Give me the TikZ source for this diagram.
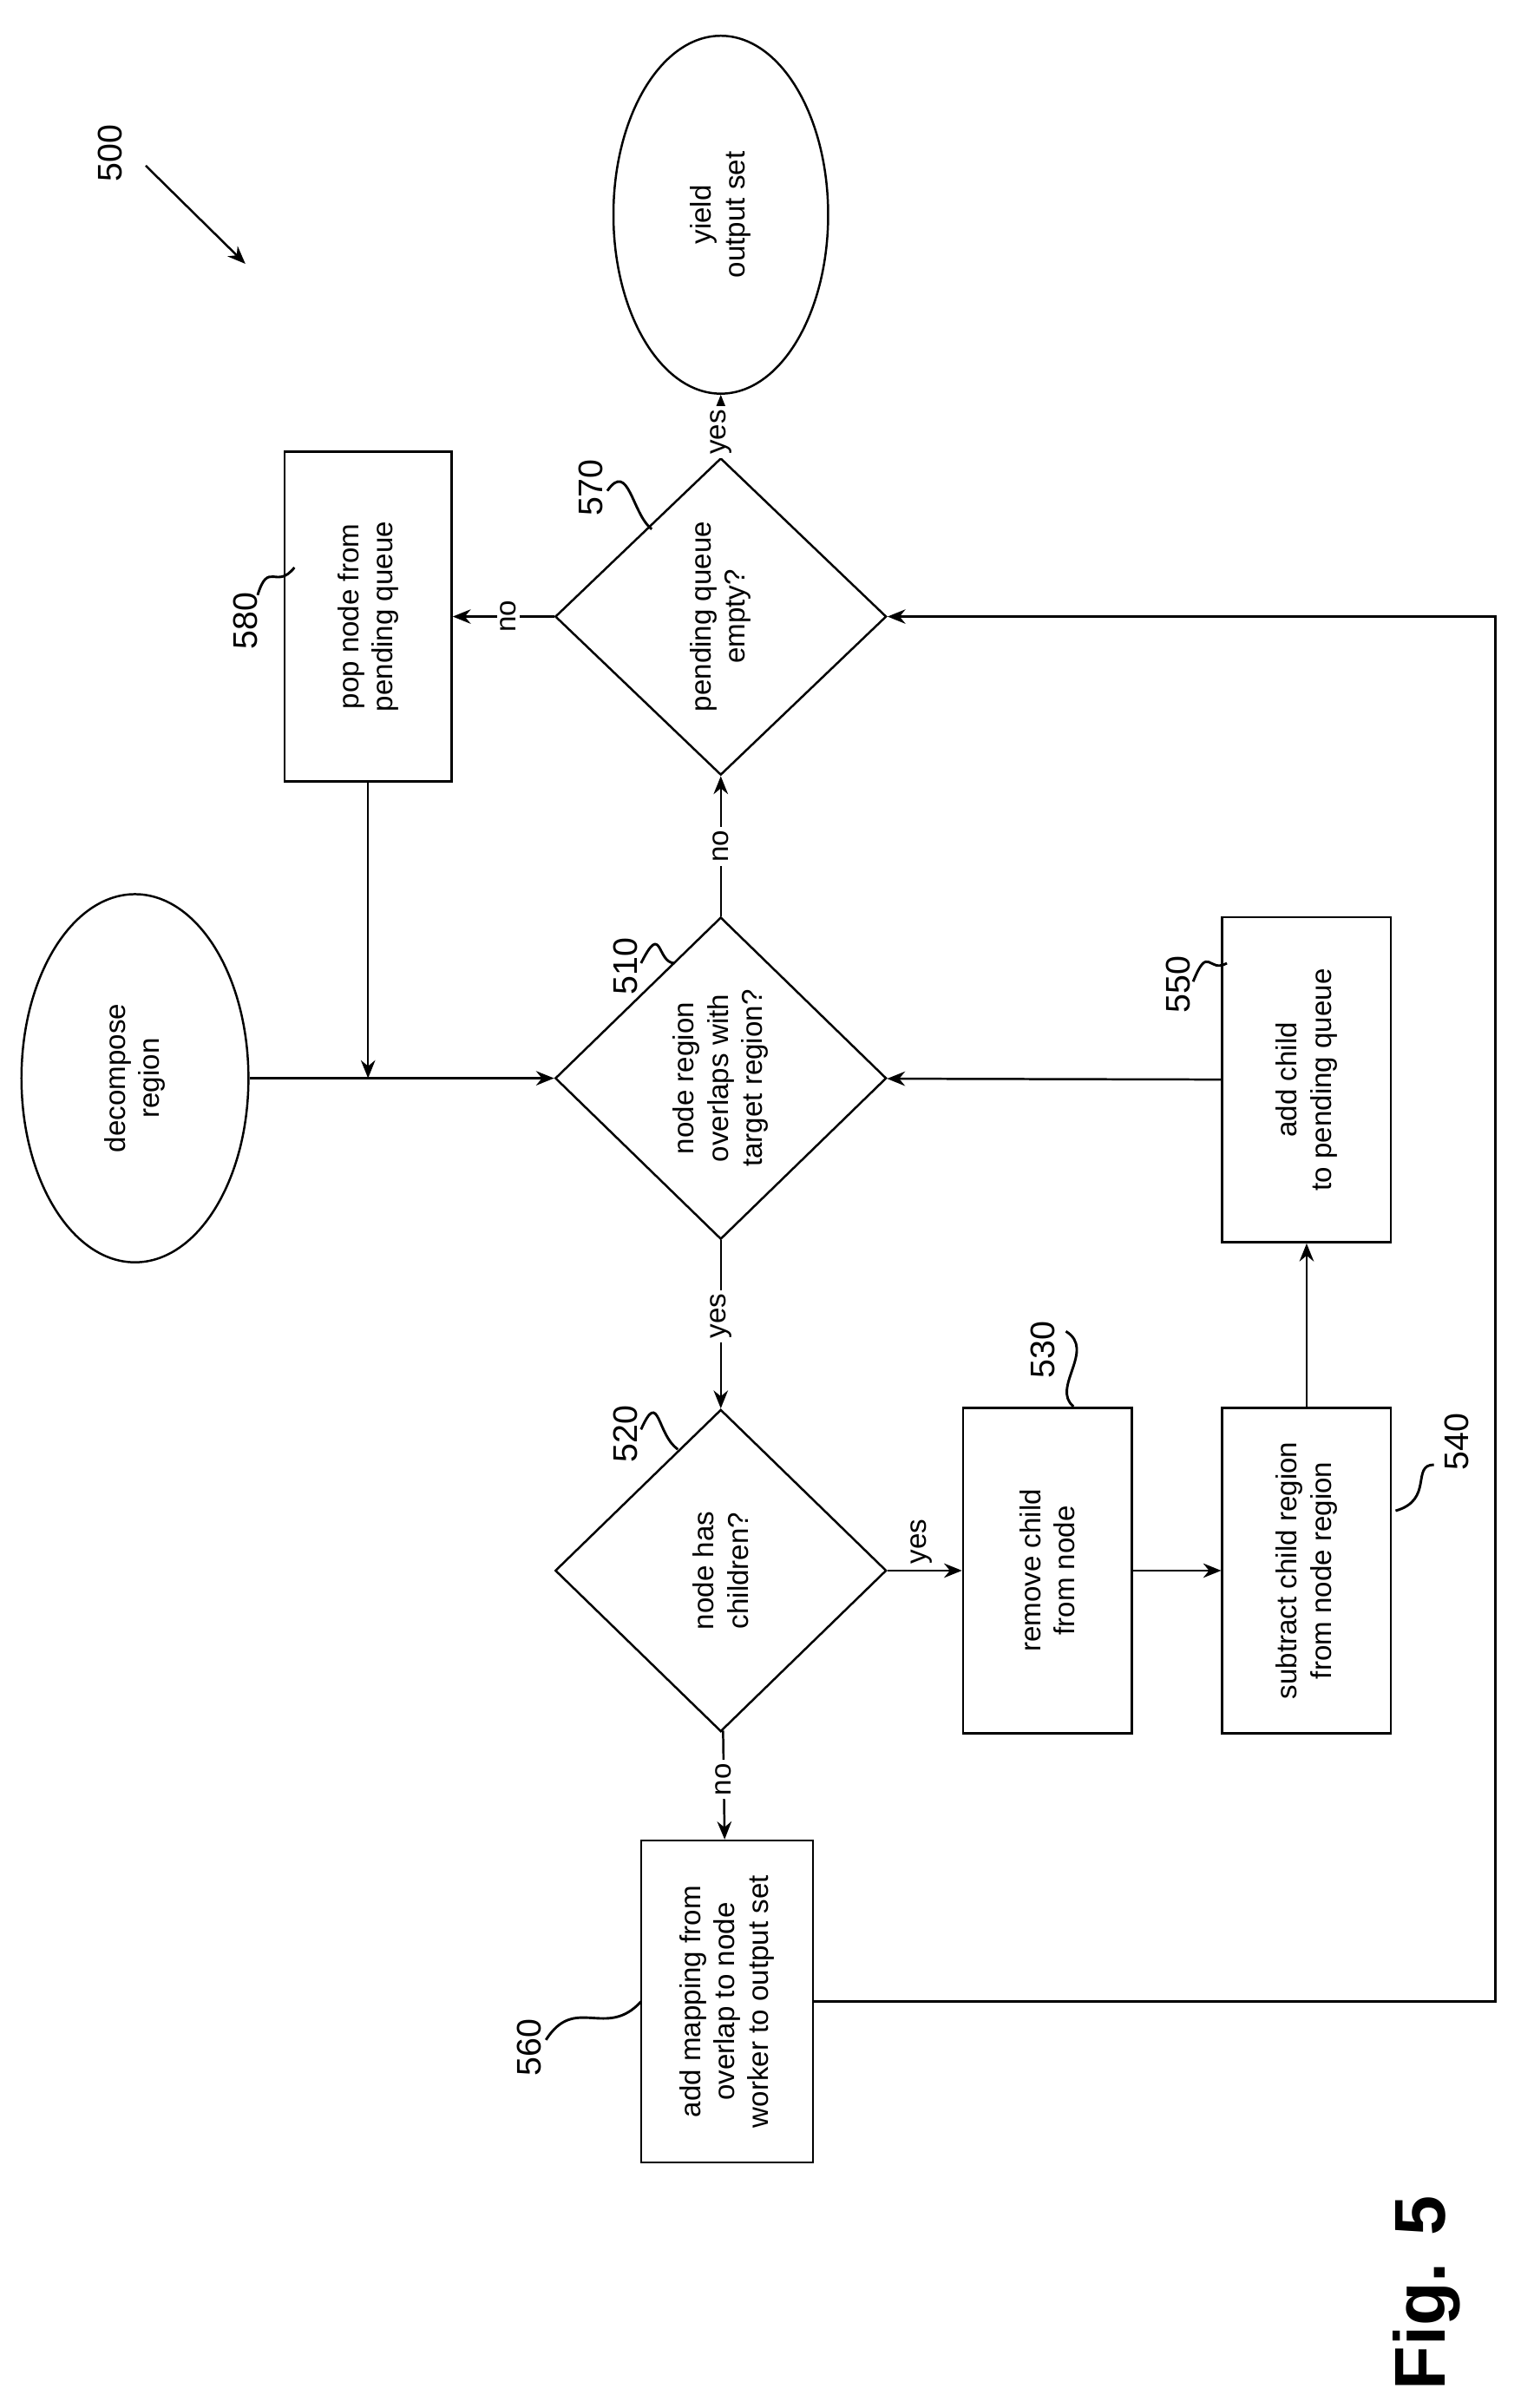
\documentclass[tikz,border=0pt]{standalone}
\usepackage{fontspec}
\setmainfont{Liberation Sans}
\usetikzlibrary{shapes.geometric,arrows.meta}
\begin{document}
\begin{tikzpicture}[x=0.03cm,y=-0.03cm,
  every node/.style={font=\fontsize{16}{19}\selectfont, rotate=90, align=center, inner sep=0},
  box/.style={draw, line width=1.2pt, rectangle},
  dia/.style={draw, line width=1.2pt, diamond},
  ell/.style={draw, line width=1.2pt, ellipse},
  arr/.style={line width=1.2pt, -{Stealth[length=10pt,width=8pt]}},
  lab/.style={fill=white, inner sep=2pt},
  num/.style={font=\fontsize{19}{22}\selectfont},
  wav/.style={line width=1.4pt}]
\useasboundingbox (0,0) rectangle (1000,1570);
\node[ell, minimum width=7.2cm, minimum height=4.44cm] (dec) at (88,703) {decompose\\region};
\node[ell, minimum width=7.0cm, minimum height=4.2cm] (yld) at (470,140) {yield\\output set};
\node[dia, minimum width=6.3cm, minimum height=6.48cm] (d510) at (470,703) {node region\\overlaps with\\target region?};
\node[dia, minimum width=6.2cm, minimum height=6.48cm] (d570) at (470,402) {pending queue\\empty?};
\node[dia, minimum width=6.3cm, minimum height=6.48cm] (d520) at (470,1024) {node has\\children?};
\node[box, minimum width=6.45cm, minimum height=3.27cm] (b580) at (240,402) {pop node from\\pending queue};
\node[box, minimum width=6.36cm, minimum height=3.3cm] (b530) at (683,1024) {remove child\\from node};
\node[box, minimum width=6.36cm, minimum height=3.3cm] (b540) at (852,1024) {subtract child region\\from node region};
\node[box, minimum width=6.36cm, minimum height=3.3cm] (b550) at (852,704) {add child\\to pending queue};
\node[box, minimum width=6.3cm, minimum height=3.36cm] (b560) at (474,1305) {add mapping from\\overlap to node\\worker to output set};
\coordinate (m) at (240,703);
\coordinate (c1) at (975,1305);
\coordinate (c2) at (975,402);
\draw[arr] (dec) -- (d510);
\draw[arr] (b580) -- (m);
\draw[arr] (d510) -- node[lab]{no} (d570);
\draw[arr] (d570) -- node[lab,pos=0.45]{no} (b580);
\draw[arr] (d570) -- node[lab,pos=0.4]{yes} (yld);
\draw[arr] (d510) -- node[lab,pos=0.45]{yes} (d520);
\draw[arr] (d520) -- node[lab,pos=0.45]{no} (b560);
\draw[arr] (d520) -- node[pos=0.45,right=3pt]{yes} (b530);
\draw[arr] (b530) -- (b540);
\draw[arr] (b540) -- (b550);
\draw[arr] (b550) -- (d510);
\draw[arr] (b560.south) -- (c1) -- (c2) -- (d570);
% reference numerals
\node[num] (n500) at (72,100) {500};
\coordinate (a500) at (95,108);
\coordinate (b500) at (160,172);
\draw[arr] (a500) -- (b500);
\node[num] (n570) at (385,318) {570};
\draw[wav] (396,320) .. controls (410,300) and (412,335) .. (425,345);
\node[num] (n580) at (160,405) {580};
\draw[wav] (168,388) .. controls (175,365) and (180,385) .. (192,370);
\node[num] (n510) at (408,630) {510};
\draw[wav] (418,628) .. controls (432,600) and (428,628) .. (440,628);
\node[num] (n520) at (408,935) {520};
\draw[wav] (418,932) .. controls (430,905) and (428,935) .. (442,945);
\node[num] (n530) at (680,880) {530};
\draw[wav] (695,868) .. controls (715,880) and (685,905) .. (700,917);
\node[num] (n540) at (950,940) {540};
\draw[wav] (935,955) .. controls (920,955) and (935,978) .. (910,985);
\node[num] (n550) at (768,642) {550};
\draw[wav] (778,640) .. controls (788,615) and (788,635) .. (800,628);
\node[num] (n560) at (345,1335) {560};
\draw[wav] (356,1330) .. controls (375,1300) and (395,1330) .. (418,1305);
\node[font=\bfseries\fontsize{40}{44}\selectfont] (fig) at (930,1495) {Fig. 5};
\end{tikzpicture}
\end{document}
